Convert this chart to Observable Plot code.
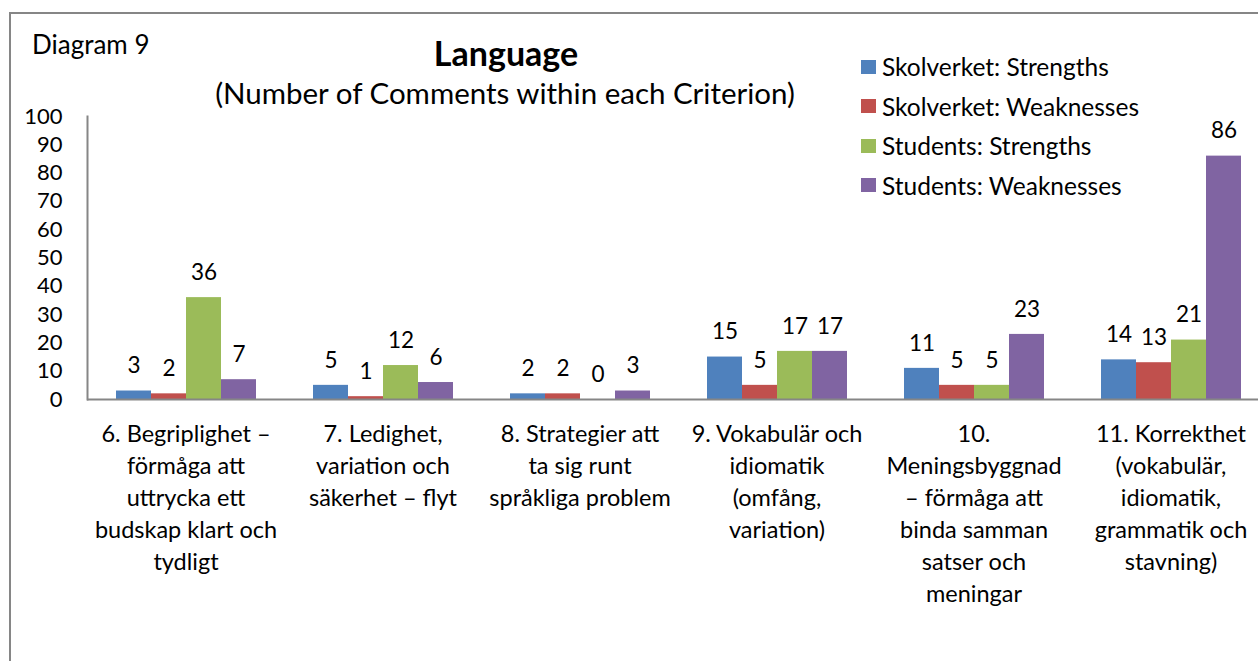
<!DOCTYPE html>
<html><head><meta charset="utf-8">
<script src="https://cdn.jsdelivr.net/npm/d3@7"></script>
<script src="https://cdn.jsdelivr.net/npm/@observablehq/plot@0.6"></script>
<style>
body{margin:0;background:#fff;overflow:hidden;font-family:Lato,sans-serif;color:#000;}
#wrap{position:relative;width:1258px;height:661px;overflow:hidden;background:#fff;}
#chart{position:absolute;left:0;top:0;width:1290px;}
#chart svg{max-width:none !important;}
#border{position:absolute;left:9px;top:12px;width:2000px;height:2000px;border-left:2px solid #868686;border-top:2px solid #868686;}
.t{position:absolute;white-space:nowrap;line-height:1;}
#diag{left:32px;top:31px;font-size:26px;}
#title{left:506px;top:36px;transform:translateX(-50%);font-size:34px;font-weight:bold;}
#subtitle{left:505px;top:78px;transform:translateX(-50%);font-size:29.5px;}
#legend{position:absolute;left:861px;top:47px;}
.row{display:flex;align-items:center;height:39.5px;font-size:24.5px;}
.sw{width:15px;height:14px;margin-right:6px;}
</style>
</head><body>
<div id="wrap">
  <div id="border"></div>
  <div id="chart"></div>
  <div class="t" id="diag">Diagram 9</div>
  <div class="t" id="title">Language</div>
  <div class="t" id="subtitle">(Number of Comments within each Criterion)</div>
  <div id="legend"></div>
</div>
<script>
const categories = ["6", "7", "8", "9", "10", "11"];
const categoryLabels = [
  "6. Begriplighet –\nförmåga att\nuttrycka ett\nbudskap klart och\ntydligt",
  "7. Ledighet,\nvariation och\nsäkerhet – flyt",
  "8. Strategier att\nta sig runt\nspråkliga problem",
  "9. Vokabulär och\nidiomatik\n(omfång,\nvariation)",
  "10.\nMeningsbyggnad\n– förmåga att\nbinda samman\nsatser och\nmeningar",
  "11. Korrekthet\n(vokabulär,\nidiomatik,\ngrammatik och\nstavning)"
];
const seriesNames = ["Skolverket: Strengths", "Skolverket: Weaknesses", "Students: Strengths", "Students: Weaknesses"];
const seriesColors = ["#4F81BD", "#C0504D", "#9BBB59", "#8064A2"];
const skolverketStrengths = [3, 5, 2, 15, 11, 14];
const skolverketWeaknesses = [2, 1, 2, 5, 5, 13];
const studentsStrengths = [36, 12, 0, 17, 5, 21];
const studentsWeaknesses = [7, 6, 3, 17, 23, 86];
const yTicks = [0, 10, 20, 30, 40, 50, 60, 70, 80, 90, 100];

const seriesValues = [skolverketStrengths, skolverketWeaknesses, studentsStrengths, studentsWeaknesses];
const rows = [];
categories.forEach((c, i) => seriesNames.forEach((s, j) => rows.push({cat: c, series: s, value: seriesValues[j][i]})));
const labelMap = new Map(categories.map((c, i) => [c, categoryLabels[i]]));

const chart = Plot.plot({
  width: 1290, height: 661,
  marginLeft: 86, marginRight: 20, marginTop: 116, marginBottom: 262,
  style: {fontFamily: "Lato, sans-serif", fontSize: "22px", color: "#000", background: "transparent", overflow: "visible"},
  fx: {domain: categories, padding: 0, label: null},
  x: {domain: seriesNames, paddingInner: 0, paddingOuter: 0.74, axis: null},
  y: {domain: [0, 100]},
  color: {domain: seriesNames, range: seriesColors},
  marks: [
    Plot.barY(rows, {fx: "cat", x: "series", y: "value", fill: "series"}),
    Plot.ruleY([0], {stroke: "#868686", strokeWidth: 2}),
    Plot.frame({anchor: "left", facetAnchor: "left", stroke: "#868686", strokeWidth: 2}),
    Plot.text(rows, {fx: "cat", x: "series", y: "value", text: d => String(d.value), dy: -25, fontSize: 22.5, fill: "#000"}),
    Plot.axisY({ticks: yTicks, tickSize: 0, tickPadding: 25, fontSize: 22, label: null, tickFormat: d => String(d)}),
    Plot.axisFx({anchor: "bottom", tickSize: 0, tickPadding: 20, fontSize: 23.5, lineHeight: 32 / 23.5, label: null, tickFormat: d => labelMap.get(d)})
  ]
});
chart.style.maxWidth = "none";
document.getElementById("chart").appendChild(chart);

const legend = document.getElementById("legend");
seriesNames.forEach((s, i) => {
  const r = document.createElement("div");
  r.className = "row";
  r.innerHTML = `<div class="sw" style="background:${seriesColors[i]}"></div><span>${s}</span>`;
  legend.appendChild(r);
});
</script>
</body></html>
